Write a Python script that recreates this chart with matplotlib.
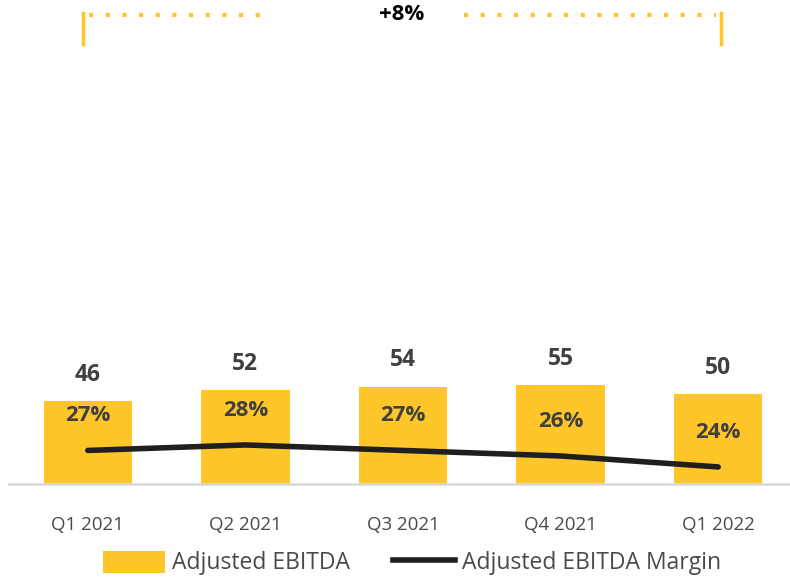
import numpy as np
import matplotlib
matplotlib.use("Agg")
import matplotlib.pyplot as plt
from matplotlib.lines import Line2D
from matplotlib.patches import Patch

plt.rcParams['font.family'] = ['Open Sans', 'DejaVu Sans']

quarters = ['Q1 2021', 'Q2 2021', 'Q3 2021', 'Q4 2021', 'Q1 2022']
ebitda = [46, 52, 54, 55, 50]
margin = [27, 28, 27, 26, 24]
margin_labels = ['27%', '28%', '27%', '26%', '24%']
growth_label = '+8%'

YELLOW = '#FFC629'
DARK = '#404040'

W, H = 790, 577
fig = plt.figure(figsize=(W / 100, H / 100), dpi=100)

# axes in pixel coords: baseline at y=484, left edge x=9
ax_bottom = (H - 484) / H
ax_top = (H - 60) / H
ax = fig.add_axes([9 / W, ax_bottom, 788 / W, ax_top - ax_bottom])
x = np.arange(len(quarters))

ax.bar(x, ebitda, width=0.56, color=YELLOW, zorder=2)
ax.set_xlim(-0.5, 4.5)
ax.set_ylim(0, 424 / 1.8)
for xi, v in zip(x, ebitda):
    ax.annotate(str(v), (xi, v), xytext=(0, 19), textcoords='offset points',
                ha='center', va='center', fontsize=16.5, fontweight='bold', color=DARK)

for s in ['top', 'right', 'left']:
    ax.spines[s].set_visible(False)
ax.spines['bottom'].set_color('#d9d9d9')
ax.spines['bottom'].set_linewidth(1.8)
ax.set_yticks([])
ax.set_xticks(x)
ax.set_xticklabels(quarters, fontsize=13.5, color='#4a4a4a')
ax.tick_params(axis='x', length=0, pad=23)

ax2 = ax.twinx()
ax2.set_ylim(20.9, 20.9 + 424 / 5.5)
ax2.plot(x, margin, color='#1f1f1f', lw=4, solid_capstyle='round', zorder=3)
for xi, m, lab in zip(x, margin, margin_labels):
    ax2.annotate(lab, (xi, m), xytext=(0, 25), textcoords='offset points',
                 ha='center', va='center', fontsize=16, fontweight='bold', color=DARK)
ax2.axis('off')

# growth bracket at the top
def fx(px):
    return px / W

def fy(py):
    return 1 - py / H

fig.add_artist(Line2D([fx(83), fx(83)], [fy(13), fy(44)], color=YELLOW, lw=2.5))
fig.add_artist(Line2D([fx(721), fx(721)], [fy(13), fy(44)], color=YELLOW, lw=2.5))
fig.add_artist(Line2D([fx(89), fx(272)], [fy(15), fy(15)], color=YELLOW, lw=3,
                      linestyle=(0, (1, 3))))
fig.add_artist(Line2D([fx(464), fx(716)], [fy(15), fy(15)], color=YELLOW, lw=3,
                      linestyle=(0, (1, 3))))
fig.text(fx(402), fy(15), growth_label, ha='center', va='center',
         fontsize=16, fontweight='bold', color='black')

handles = [Patch(facecolor=YELLOW, edgecolor='none'),
           Line2D([0], [0], color='#1f1f1f', lw=4)]
fig.legend(handles, ['Adjusted EBITDA', 'Adjusted EBITDA Margin'],
           loc='center', bbox_to_anchor=(fx(412), fy(563)), ncol=2, frameon=False,
           fontsize=16.5, labelcolor='#4a4a4a', handlelength=2.7, handletextpad=0.3,
           columnspacing=1.9, handleheight=1.1)

fig.savefig('out.png', dpi=100)
